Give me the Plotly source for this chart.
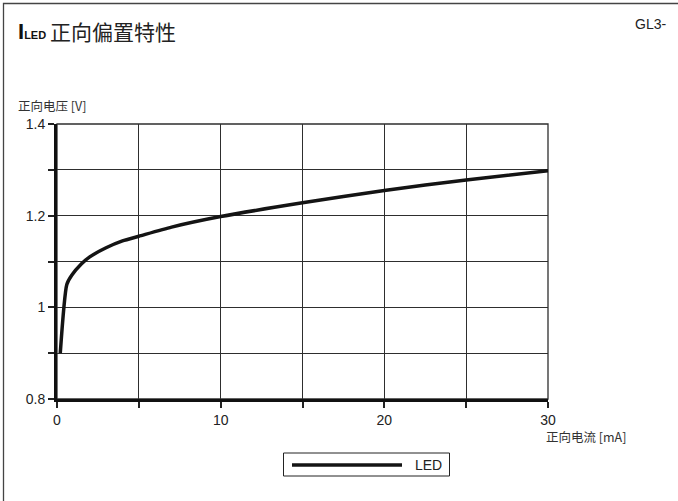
import plotly.graph_objects as go

# ---- data ----
current_ma = [0.2, 0.6, 0.9, 1.5, 2, 3, 4, 5, 7, 10, 15, 20, 25, 30]
voltage_v = [0.9, 1.05, 1.07, 1.095, 1.11, 1.13, 1.145, 1.155, 1.175, 1.198, 1.228, 1.255, 1.278, 1.298]
series_name = "LED"

x_tickvals = [0, 5, 10, 15, 20, 25, 30]
x_ticktext = ["0", "", "10", "", "20", "", "30"]
y_tickvals = [0.8, 0.9, 1.0, 1.1, 1.2, 1.3, 1.4]
y_ticktext = ["0.8", "", "1", "", "1.2", "", "1.4"]

title_main = "正向偏置特性"
code_label = "GL3-"
y_title = "正向电压 [V]"
x_title = "正向电流 [mA]"

# ---- layout geometry (pixels) ----
W, H = 678, 501
L, R, T, B = 57, 130, 124, 102
PW, PH = W - L - R, H - T - B


def px(xp):
    return (xp - L) / PW


def py(yp):
    return (H - B - yp) / PH


FONT = "Liberation Sans, Arial, sans-serif"
CJK = "Noto Sans CJK SC, Liberation Sans, sans-serif"
GRID = "#2e2e2e"

fig = go.Figure()
fig.add_trace(go.Scatter(
    x=current_ma, y=voltage_v, mode="lines", name=series_name,
    line=dict(color="#141414", width=3.5, shape="spline", smoothing=0.6),
    showlegend=False,
))

fig.update_layout(
    width=W, height=H,
    margin=dict(l=L, r=R, t=T, b=B),
    paper_bgcolor="white", plot_bgcolor="white",
    font=dict(family=FONT, color="#222", size=13),
    xaxis=dict(
        range=[0, 30], tickvals=x_tickvals, ticktext=x_ticktext,
        showgrid=True, gridcolor=GRID, gridwidth=1.3,
        showline=True, linecolor="#111", linewidth=3,
        ticks="outside", ticklen=6, tickwidth=1.5, tickcolor="#222",
        tickfont=dict(family=FONT, size=14, color="#222"),
        zeroline=False, fixedrange=True,
    ),
    yaxis=dict(
        range=[0.8, 1.4], tickvals=y_tickvals, ticktext=y_ticktext,
        showgrid=True, gridcolor=GRID, gridwidth=1.3,
        showline=True, linecolor="#111", linewidth=3,
        ticks="outside", ticklen=6, tickwidth=1.5, tickcolor="#222",
        tickfont=dict(family=FONT, size=14, color="#222"),
        zeroline=False, fixedrange=True,
    ),
)

shapes = [
    # plot frame (thin top/right)
    dict(type="rect", xref="x domain", yref="y domain", x0=0, x1=1, y0=0, y1=1,
         line=dict(color=GRID, width=1.3), layer="below"),
    # outer frame of the figure
    dict(type="rect", xref="paper", yref="paper",
         x0=px(3.5), x1=px(690), y0=py(520), y1=py(3.5),
         line=dict(color="#444", width=1.3)),
    # legend box
    dict(type="rect", xref="paper", yref="paper",
         x0=px(283.5), x1=px(449.5), y0=py(476), y1=py(453),
         line=dict(color="#222", width=1), fillcolor="white"),
    # legend line sample
    dict(type="line", xref="paper", yref="paper",
         x0=px(292), x1=px(402), y0=py(465), y1=py(465),
         line=dict(color="#141414", width=3.5)),
]

annotations = [
    dict(text="<b>I</b><b><span style='font-size:11px'>LED</span></b>",
         xref="paper", yref="paper", x=px(16), y=py(31), xanchor="left", yanchor="middle",
         showarrow=False, font=dict(family=FONT, size=22, color="#111")),
    dict(text=title_main, xref="paper", yref="paper", x=px(48), y=py(31),
         xanchor="left", yanchor="middle", showarrow=False,
         font=dict(family=CJK, size=21, color="#222")),
    dict(text=code_label, xref="paper", yref="paper", x=px(668), y=py(24),
         xanchor="right", yanchor="middle", showarrow=False,
         font=dict(family=FONT, size=14, color="#222")),
    dict(text=y_title, xref="paper", yref="paper", x=px(16), y=py(105),
         xanchor="left", yanchor="middle", showarrow=False,
         font=dict(family=CJK, size=12.5, color="#333")),
    dict(text=x_title, xref="paper", yref="paper", x=px(628), y=py(436),
         xanchor="right", yanchor="middle", showarrow=False,
         font=dict(family=CJK, size=12.5, color="#333")),
    dict(text=series_name, xref="paper", yref="paper", x=px(444), y=py(465),
         xanchor="right", yanchor="middle", showarrow=False,
         font=dict(family=FONT, size=14, color="#222")),
]

fig.update_layout(shapes=shapes, annotations=annotations)
fig.write_html("out.html")
